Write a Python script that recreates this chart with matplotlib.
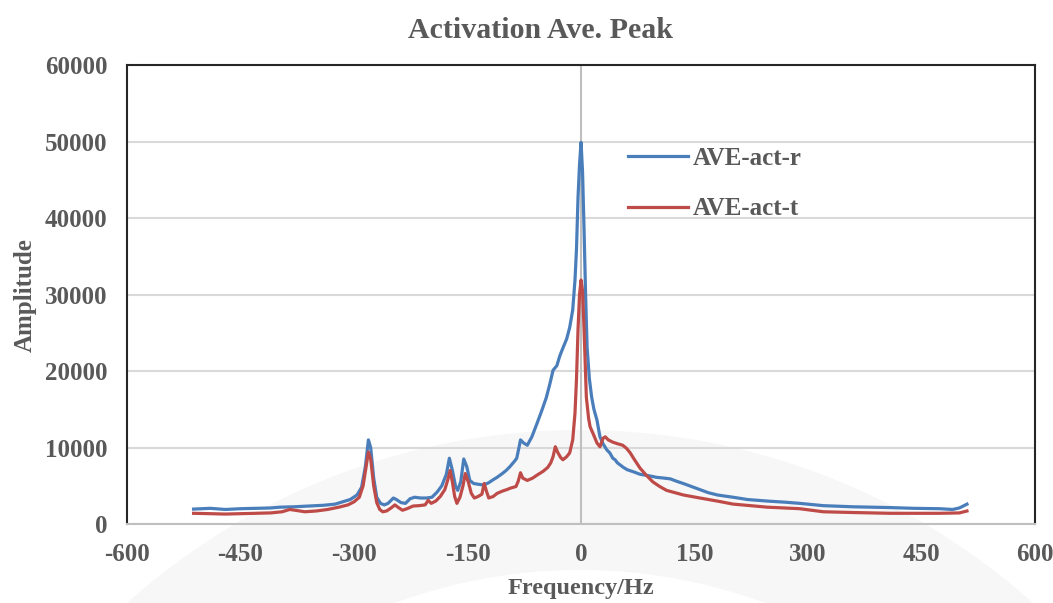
import matplotlib.pyplot as plt
from matplotlib.patches import Wedge

# Averaged spectra, frequency in Hz
freq_r = [-512, -490, -470, -450, -430, -410, -398, -380, -360, -340, -325, -315, -305, -296,
          -290, -285, -281, -278, -274, -270, -265, -260, -255, -248, -244, -238, -232, -226,
          -220, -212, -204, -197, -190, -184, -178, -174, -170, -166, -163, -159, -155, -151,
          -147, -142, -136, -129, -122, -116, -111, -104, -99, -94, -88, -85, -82, -80, -76,
          -71, -65, -58, -52, -46, -41, -37, -32, -28, -24, -19, -15, -11, -8, -6, -4, -2, 0,
          2, 4, 6, 8, 11, 14, 17, 21, 25, 29, 34, 38, 42, 45, 48, 52, 56, 61, 70, 78, 90, 100,
          110, 118, 126, 135, 146, 157, 168, 180, 190, 201, 220, 246, 270, 289, 320, 360, 408,
          440, 474, 491, 500, 505, 510]
amp_r = [1950, 2050, 1900, 2000, 2050, 2100, 2200, 2250, 2350, 2450, 2600, 2900, 3200, 3800,
         4800, 7500, 11000, 10000, 6000, 3500, 2700, 2500, 2700, 3400, 3200, 2800, 2700, 3300,
         3500, 3400, 3400, 3500, 4200, 5000, 6500, 8600, 7000, 5000, 4400, 5500, 8500, 7500,
         5700, 5300, 5200, 5100, 5400, 5800, 6100, 6600, 7000, 7500, 8200, 8600, 10000, 11000, 10600,
         10300, 11400, 13200, 14800, 16500, 18400, 20100, 20700, 22000, 23000, 24200, 25700, 28000,
         31900, 36000, 42700, 47000, 49900,
         46000, 38400, 30000, 23100, 19000, 16600, 15000, 13600, 11400, 10500, 9700, 9300, 8600,
         8400, 8000, 7700, 7400, 7100, 6800, 6500, 6300, 6100,
         6000, 5900, 5600, 5300, 4900, 4500, 4100, 3800, 3650, 3500, 3200, 3000, 2850, 2700, 2400,
         2250, 2150, 2050, 2000, 1900, 2100, 2350, 2600]

freq_t = [-512, -490, -470, -450, -430, -410, -395, -385, -378, -365, -350, -335, -320, -308,
          -300, -293, -288, -284, -281, -278, -274, -270, -266, -262, -257, -251, -246, -242,
          -236, -230, -222, -214, -206, -202, -198, -192, -186, -180, -176, -173, -170, -167,
          -164, -160, -156, -153, -149, -145, -141, -136, -131, -128, -125, -122, -116, -111,
          -104, -98, -93, -86, -83, -80, -77, -71, -64, -58, -50, -44, -40, -37, -34, -31, -27,
          -24, -19, -15, -11, -8, -6, -4, -2, 0, 2, 4, 7, 10, 12, 16, 21, 25, 29, 32, 36, 42,
          48, 55, 60, 65, 70, 78, 86, 95, 104, 113, 124, 135, 146, 157, 180, 201, 224, 246, 268,
          289, 320, 360, 408, 474, 500, 510]
amp_t = [1400, 1350, 1300, 1350, 1400, 1450, 1600, 1900, 1800, 1600, 1700, 1900, 2200, 2500,
         2900, 3500, 5000, 7500, 9400, 8500, 5000, 2800, 1900, 1600, 1700, 2100, 2500, 2200,
         1800, 2000, 2350, 2400, 2500, 3100, 2700, 3000, 3600, 4500, 5800, 7000, 5500, 3600,
         2700, 3500, 5000, 6600, 5500, 4000, 3400, 3600, 3900, 5300, 4300, 3400, 3600, 4000,
         4300, 4500, 4700, 4900, 5600, 6700, 6000, 5700, 6000, 6400, 6900, 7400, 8000, 8800, 10100, 9400, 8700,
         8400, 8800, 9300, 11000, 14500, 19000, 25400, 30000, 31900, 30500, 25400, 16600, 13800, 12700, 11800, 10600, 10100, 11200, 11400, 11000, 10700,
         10500, 10300, 9900, 9300, 8500, 7300, 6400, 5500, 4900, 4400, 4100, 3800, 3600, 3400, 3000, 2600, 2400, 2200, 2100,
         2000, 1600, 1500, 1400, 1400, 1450, 1700]

x_ticks = [-600, -450, -300, -150, 0, 150, 300, 450, 600]
y_ticks = [0, 10000, 20000, 30000, 40000, 50000, 60000]

plt.rcParams['font.family'] = ['Liberation Serif', 'DejaVu Serif']
plt.rcParams['font.weight'] = 'bold'
text_col = '#595959'

fig = plt.figure(figsize=(10.53, 6.03), dpi=100)

# faint emblem behind everything, on its own full-figure axes
bg = fig.add_axes([0, 0, 1, 1], zorder=-1)
bg.set_xlim(0, 1053)
bg.set_ylim(603, 0)
bg.axis('off')
bg.add_patch(Wedge((580, 1110), 680, 180, 360, width=140,
                   facecolor='#f7f7f7', edgecolor='none'))

ax = fig.add_axes([0.1206, 0.131, 0.8624, 0.761])
ax.set_facecolor('none')

ax.plot(freq_r, amp_r, color='#4a7ebb', lw=2.3, label='AVE-act-r', zorder=3)
ax.plot(freq_t, amp_t, color='#be4b48', lw=2.3, label='AVE-act-t', zorder=3)

ax.set_xlim(-600, 600)
ax.set_ylim(0, 60000)
ax.set_xticks(x_ticks)
ax.set_yticks(y_ticks)
ax.set_xticklabels([str(v) for v in x_ticks])
ax.set_yticklabels([str(v) for v in y_ticks])
ax.tick_params(length=0, labelsize=18, labelcolor=text_col)
ax.tick_params(axis='y', pad=14)
ax.tick_params(axis='x', pad=14)

ax.yaxis.grid(True, color='#d9d9d9', lw=1.5)
ax.set_axisbelow(True)
ax.axvline(0, color='#bfbfbf', lw=1.5, zorder=1)

for side in ['left', 'top', 'right']:
    ax.spines[side].set_color('#262626')
    ax.spines[side].set_linewidth(1.5)
ax.spines['bottom'].set_color('#bfbfbf')
ax.spines['bottom'].set_linewidth(1.5)

fig.text(540 / 1053, 1 - 30 / 603, 'Activation Ave. Peak', fontsize=21.5, fontweight='bold',
         color=text_col, ha='center', va='center')
ax.set_xlabel('Frequency/Hz', fontsize=17.5, fontweight='bold', color=text_col, labelpad=8)
ax.set_ylabel('Amplitude', fontsize=18, fontweight='bold', color=text_col, labelpad=6)

ax.legend(loc='upper left', bbox_to_anchor=(0.527, 0.871), frameon=False, fontsize=18,
          handlelength=2.4, labelspacing=1.1, handletextpad=0.2, labelcolor=text_col)

fig.savefig('out.png', dpi=100)
